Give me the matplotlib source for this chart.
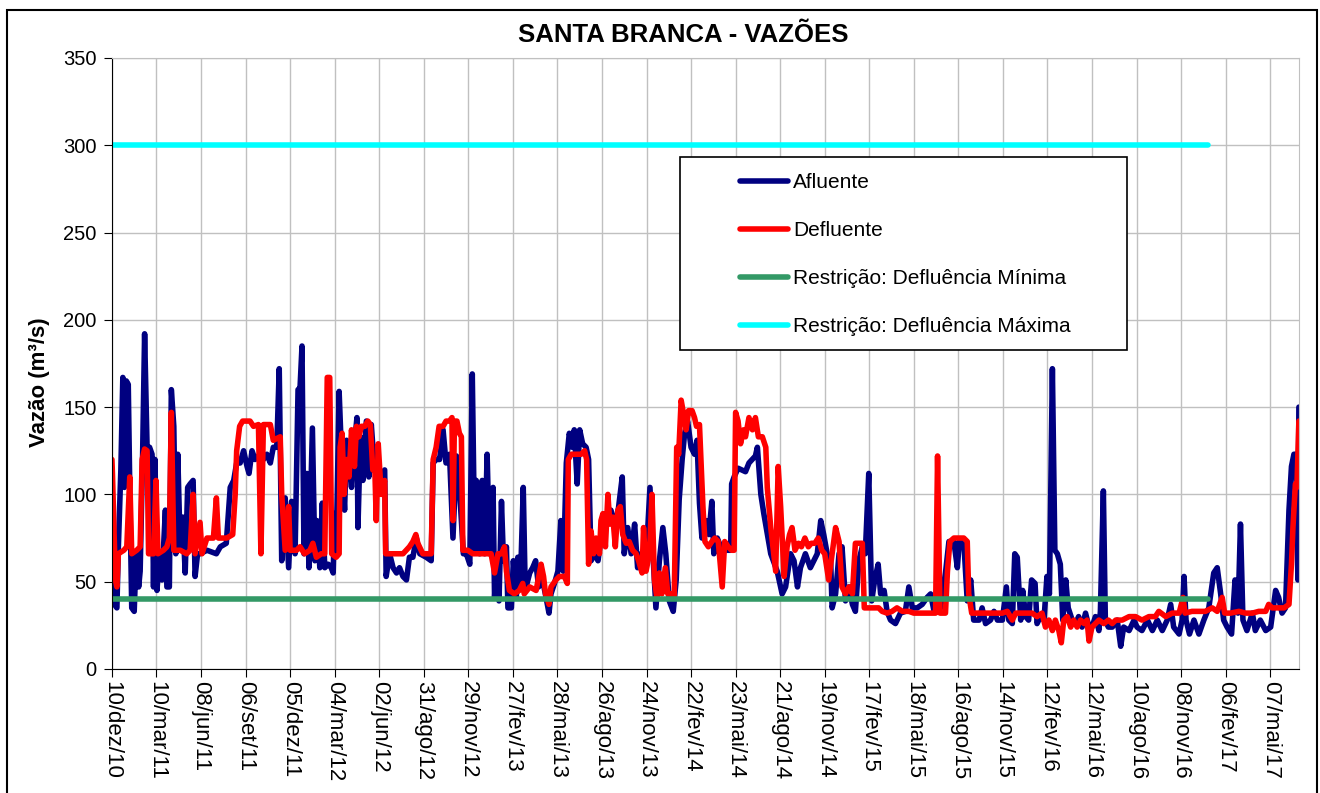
import numpy as np
import pandas as pd
import matplotlib
matplotlib.use('Agg')
import matplotlib.pyplot as plt
from matplotlib.patches import Rectangle

plt.rcParams['font.family'] = ['Liberation Sans', 'DejaVu Sans']

# dados: (dias desde 10/dez/10, vazão em m³/s)
inicio = np.datetime64('2010-12-10')

afluente = [(0,62),(5,37),(10,35),(13,70),(18,114),(22,167),(25,104),(29,165),(33,163),(37,85),(40,35),(45,33),
    (49,66),(54,47),(57,56),(62,123),(66,192),(71,127),(76,127),(81,123),(84,47),(87,120),(91,45),(96,66),(101,51),
    (108,91),(111,47),(116,47),(120,160),(125,139),(129,66),(133,123),(138,68),(143,87),(148,55),(153,104),(158,106),
    (164,108),(168,53),(173,66),(178,66),(192,68),(211,66),(219,70),(231,72),(239,104),(246,108),(252,118),(259,118),
    (266,125),(273,116),(277,112),(283,125),(289,120),(299,123),(306,120),(313,123),(320,118),(326,127),(333,127),
    (338,172),(343,62),(350,98),(357,58),(363,96),(370,66),(376,160),(380,161),(384,185),(388,66),
    (394,112),(398,58),(405,138),(410,62),(414,85),(420,58),(425,95),(430,58),(437,60),(443,58),(447,55),(450,89),
    (453,66),(459,159),(463,129),(470,91),(474,131),(479,120),(484,104),(488,123),(495,144),(497,81),(502,133),
    (507,108),(514,142),(519,110),(524,140),(529,120),(534,127),(541,110),(551,114),(554,53),(561,66),(568,58),
    (575,55),(581,58),(588,53),(595,51),(601,64),(608,64),(615,75),(622,66),(635,64),(645,62),(649,118),(655,120),
    (662,120),(669,137),(675,118),(682,123),(689,75),(696,122),(702,104),(710,66),(716,66),(723,60),(728,169),
    (733,68),(736,108),(743,66),(748,108),(753,66),(758,123),(763,66),(770,104),(773,41),(776,56),(782,39),(787,96),
    (791,62),(797,70),(800,35),(807,35),(811,62),(817,41),(820,64),(825,47),(831,104),(835,45),(844,55),(850,58),
    (856,62),(862,47),(870,51),(877,41),(883,32),(887,43),(894,49),(901,56),(907,85),(912,56),(918,118),(924,135),
    (930,127),(934,137),(940,106),(945,137),(951,129),(958,127),(963,120),(968,62),(975,66),(982,62),(988,75),
    (995,81),(1002,87),(1008,91),(1015,85),(1022,89),(1031,110),(1035,66),(1042,81),(1049,66),(1056,83),(1062,58),
    (1069,66),(1079,62),(1087,104),(1093,66),(1099,35),(1106,62),(1113,81),(1119,66),(1126,39),(1134,33),(1140,51),
    (1146,97),(1152,120),(1157,135),(1163,142),(1170,127),(1177,123),(1182,131),(1187,95),(1192,75),(1200,85),
    (1206,77),(1212,96),(1216,66),(1223,75),(1230,70),(1240,68),(1250,68),(1252,106),(1257,110),(1265,115),
    (1280,113),(1287,118),(1300,122),(1304,127),(1311,100),(1317,89),(1331,66),(1344,56),(1354,43),(1361,47),
    (1371,66),(1378,62),(1385,47),(1391,58),(1401,66),(1411,58),(1418,62),(1425,66),(1432,85),(1438,77),(1445,66),
    (1452,62),(1455,35),(1462,43),(1469,66),(1475,70),(1482,39),(1489,47),(1496,37),(1502,33),(1509,62),(1516,70),
    (1522,66),(1529,112),(1535,39),(1541,51),(1548,60),(1553,43),(1560,45),(1566,33),(1573,28),(1583,26),(1593,32),
    (1603,33),(1610,47),(1617,35),(1627,35),(1637,37),(1647,41),(1654,43),(1661,33),(1667,35),(1674,35),(1684,55),
    (1691,73),(1701,73),(1708,58),(1712,73),(1721,73),(1728,39),(1735,51),(1741,28),(1752,28),(1758,35),(1765,26),
    (1775,28),(1782,33),(1789,28),(1799,28),(1807,47),(1812,28),(1819,26),(1824,66),(1829,64),(1836,28),(1840,45),
    (1846,30),(1852,28),(1858,51),(1865,49),(1869,26),(1876,30),(1883,28),(1889,53),(1894,43),(1900,172),(1905,68),
    (1910,66),(1916,60),(1921,28),(1927,51),(1932,35),(1940,28),(1947,26),(1953,30),(1960,24),(1967,32),(1974,24),
    (1980,24),(1987,30),(1994,22),(1997,33),(2003,102),(2007,28),(2013,24),(2021,24),(2031,28),(2038,13),(2044,24),
    (2055,22),(2065,28),(2071,24),(2081,22),(2092,28),(2102,22),(2112,28),(2122,22),(2132,28),(2139,37),(2145,24),
    (2156,20),(2162,28),(2166,53),(2170,28),(2177,20),(2186,28),(2196,20),(2206,28),(2216,35),(2226,55),(2233,58),
    (2240,43),(2246,28),(2253,24),(2262,20),(2269,51),(2275,32),(2280,83),(2285,28),(2293,22),(2304,32),(2310,22),
    (2320,28),(2331,22),(2341,24),(2351,45),(2357,41),(2364,32),(2371,35),(2378,91),(2383,116),(2388,123),
    (2392,123),(2396,51),(2398,150)]

defluente = [(0,120),(1,112),(7,51),(10,47),(13,66),(24,68),(30,70),(36,110),(40,66),(50,68),(57,70),(61,120),
    (66,126),(71,125),(74,66),(84,66),(89,108),(93,66),(104,68),(111,70),(116,75),(120,147),(125,68),(138,68),
    (151,66),(158,68),(164,100),(168,66),(178,84),(182,66),(192,75),(205,75),(211,98),(215,75),(232,75),(244,77),
    (249,100),(252,125),(258,139),(264,142),(279,142),(286,139),(296,140),(301,66),(306,140),(320,140),(326,131),
    (340,133),(343,100),(350,68),(357,93),(360,68),(373,68),(380,70),(389,66),(400,68),(406,72),(413,64),(423,66),
    (430,66),(435,167),(440,167),(444,66),(453,64),(459,66),(461,127),(465,135),(469,100),(474,120),(479,110),
    (484,137),(490,116),(494,139),(499,133),(504,139),(511,139),(517,142),(522,140),(527,114),(531,116),(534,85),
    (538,129),(544,100),(551,108),(553,66),(561,66),(575,66),(588,66),(601,70),(608,73),(614,77),(618,72),(628,66),
    (645,66),(649,120),(655,127),(661,139),(669,139),(675,142),(682,142),(687,144),(689,85),(692,142),(697,142),
    (702,135),(706,133),(709,68),(719,68),(729,66),(743,66),(756,66),(766,66),(773,55),(780,66),(787,66),(793,70),
    (797,56),(803,45),(813,43),(823,45),(830,49),(833,43),(844,47),(857,45),(867,60),(872,53),(876,43),(883,37),
    (887,47),(897,51),(904,53),(914,53),(920,49),(922,120),(928,123),(938,123),(948,123),(955,125),(959,120),
    (963,60),(968,79),(973,66),(978,75),(985,66),(988,85),(992,89),(997,70),(1002,100),(1006,83),(1012,87),
    (1017,70),(1022,91),(1027,93),(1032,77),(1039,72),(1045,73),(1052,68),(1059,66),(1064,62),(1071,55),(1074,81),
    (1079,56),(1086,66),(1091,100),(1096,51),(1101,41),(1106,55),(1111,43),(1118,58),(1123,43),(1130,43),(1136,41),
    (1141,127),(1145,123),(1150,154),(1155,146),(1160,137),(1165,148),(1172,148),(1177,144),(1181,139),(1187,140),
    (1194,93),(1198,73),(1205,70),(1212,73),(1218,75),(1225,73),(1233,47),(1238,73),(1245,70),(1252,68),(1257,68),
    (1260,147),(1265,142),(1270,129),(1276,137),(1280,133),(1287,144),(1294,137),(1300,144),(1306,133),(1314,133),
    (1321,127),(1324,104),(1331,81),(1337,66),(1341,56),(1346,116),(1351,93),(1358,53),(1364,70),(1369,77),
    (1374,81),(1380,68),(1387,72),(1393,70),(1400,75),(1407,70),(1413,72),(1420,72),(1427,75),(1434,68),(1440,66),
    (1448,51),(1455,66),(1462,81),(1469,73),(1475,47),(1482,43),(1489,47),(1496,43),(1502,72),(1509,72),(1516,72),
    (1520,35),(1529,35),(1539,35),(1549,35),(1556,33),(1566,32),(1576,33),(1586,35),(1597,33),(1610,33),(1620,32),
    (1630,32),(1644,32),(1657,32),(1664,32),(1668,122),(1673,32),(1684,32),(1688,56),(1693,73),(1701,75),(1711,75),
    (1721,75),(1728,73),(1731,43),(1737,32),(1752,32),(1772,32),(1785,32),(1799,32),(1809,33),(1819,28),(1826,32),
    (1846,32),(1859,32),(1869,30),(1879,32),(1886,24),(1893,28),(1900,22),(1906,28),(1913,22),(1918,15),(1923,28),
    (1930,30),(1937,24),(1943,28),(1950,24),(1957,28),(1964,26),(1970,28),(1974,16),(1980,24),(1987,26),(1994,28),
    (2004,26),(2013,28),(2021,26),(2028,28),(2041,28),(2055,30),(2068,30),(2081,28),(2095,30),(2108,30),(2115,33),
    (2129,30),(2142,32),(2156,32),(2164,41),(2168,32),(2182,33),(2196,33),(2209,33),(2223,35),(2233,33),(2243,41),
    (2248,32),(2260,32),(2277,33),(2290,32),(2304,32),(2317,33),(2331,33),(2337,37),(2344,35),(2357,35),(2368,35),
    (2378,37),(2383,60),(2386,81),(2391,106),(2394,104),(2398,142)]

dias_restricao = [0, 2214]
defl_minima = [40, 40]
defl_maxima = [300, 300]
dia_final = 2398

meses = ['jan', 'fev', 'mar', 'abr', 'mai', 'jun', 'jul', 'ago', 'set', 'out', 'nov', 'dez']


def datas(dias):
    return inicio + np.array(dias).astype('timedelta64[D]')


fig = plt.figure(figsize=(13.2, 7.93), dpi=100)
ax = fig.add_axes([0.0848, 0.1564, 0.8992, 0.7705])

estilo = dict(lw=4.0, solid_joinstyle='round', solid_capstyle='round')
d, v = zip(*afluente)
l1, = ax.plot(datas(d), v, color='#000080', label='Afluente', **estilo)
d, v = zip(*defluente)
l2, = ax.plot(datas(d), v, color='#FF0000', label='Defluente', **estilo)
l3, = ax.plot(datas(dias_restricao), defl_minima, color='#339966', label='Restrição: Defluência Mínima', **estilo)
l4, = ax.plot(datas(dias_restricao), defl_maxima, color='#00FFFF', label='Restrição: Defluência Máxima', **estilo)

ax.set_ylim(0, 350)
ax.set_yticks(range(0, 351, 50))
ax.set_xlim(datas([0])[0], datas([dia_final])[0])

ticks = datas(list(range(0, 2341, 90)))
rotulos = []
for t in ticks:
    ts = pd.Timestamp(t)
    rotulos.append(f"{ts.day:02d}/{meses[ts.month - 1]}/{ts.year % 100:02d}")
ax.set_xticks(ticks)
ax.set_xticklabels(rotulos, rotation=-90, ha='center', va='top')

ax.grid(True, color='#C0C0C0', lw=1)
ax.set_axisbelow(True)
for s in ['top', 'right']:
    ax.spines[s].set_color('#C0C0C0')
for s in ['left', 'bottom']:
    ax.spines[s].set_color('black')
ax.tick_params(axis='y', labelsize=14.5, length=6, pad=5)
ax.tick_params(axis='x', labelsize=16, length=6, pad=3)

ax.set_ylabel('Vazão (m³/s)', fontsize=16, fontweight='bold')
ax.yaxis.set_label_coords(-0.052, 0.47)

fig.text(0.5174, 0.956, 'SANTA BRANCA - VAZÕES', ha='center', va='center',
         fontsize=18.5, fontweight='bold')

# caixa da legenda
fig.add_artist(Rectangle((0.5152, 0.5586), 0.3386, 0.2434, transform=fig.transFigure,
                         facecolor='white', edgecolor='black', lw=1.2, zorder=5))
leg = fig.legend(handles=[l1, l2, l3, l4], loc='upper left', bbox_to_anchor=(0.5606, 0.782),
                 frameon=False, fontsize=15, handlelength=2.3, handletextpad=0.25,
                 labelspacing=1.4, borderpad=0, borderaxespad=0)
leg.set_zorder(6)

# moldura externa
fig.add_artist(Rectangle((0.0053, -0.1), 0.9924, 1.0874, transform=fig.transFigure,
                         fill=False, edgecolor='black', lw=1.5))

fig.savefig('out.png', dpi=100)
